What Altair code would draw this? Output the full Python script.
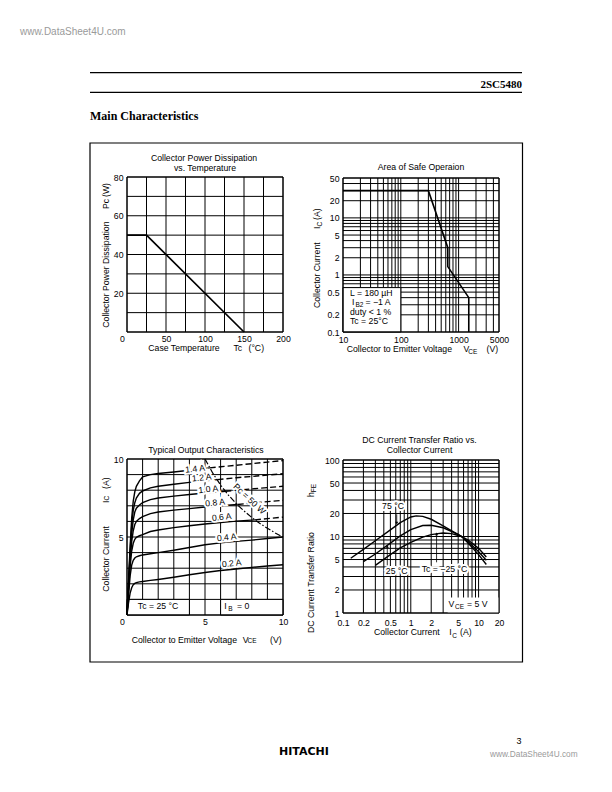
import altair as alt
import pandas as pd

W, H, M = 596, 776, 8
SANS = "Liberation Sans"
SERIF = "Liberation Serif"
FS = 8.7
SUB = 6.5

# ---------------- Collector power dissipation vs. temperature ----------------
pd_tc = [0, 25, 150]
pd_pc = [50, 50, 0]
pd_xticks = [0, 50, 100, 150, 200]
pd_yticks = [20, 40, 60, 80]
pd_xgrid = [0, 25, 50, 75, 100, 125, 150, 175, 200]
pd_ygrid = [0, 10, 20, 30, 40, 50, 60, 70, 80]

# ---------------- Area of safe operation ----------------
soa_vce = [10, 300, 650, 650, 1500, 1500]
soa_ic = [30, 30, 3, 1.4, 0.4, 0.1]
soa_xticks = [10, 100, 1000, 5000]
soa_yticks = [0.1, 0.2, 0.5, 1, 2, 5, 10, 20, 50]
soa_xgrid = [10, 20, 30, 40, 50, 60, 70, 80, 90, 100, 200, 300, 400, 500, 600, 700, 800, 900,
             1000, 2000, 3000, 4000, 5000]
soa_ygrid = [0.1, 0.2, 0.3, 0.4, 0.5, 0.6, 0.7, 0.8, 0.9, 1, 2, 3, 4, 5, 6, 7, 8, 9, 10, 20, 30, 40, 50]
soa_box_v = [10, 100]
soa_box_i = [0.1, 0.6]

# ---------------- Typical output characteristics ----------------
oc_14_v = [0, 0.1, 0.2, 0.3, 0.4, 0.5, 0.6, 0.8, 1, 1.5, 2, 3, 4, 5, 5.3]
oc_14_i = [0, 2.2, 4.4, 6.2, 7.3, 7.9, 8.25, 8.6, 8.85, 9.0, 9.07, 9.17, 9.28, 9.4, 9.43]
oc_14_dv = [5.3, 6, 7, 8, 9, 10]
oc_14_di = [9.43, 9.5, 9.6, 9.7, 9.8, 9.9]
oc_12_v = [0, 0.1, 0.2, 0.3, 0.4, 0.5, 0.6, 0.8, 1, 1.5, 2, 3, 4, 5, 5.8]
oc_12_i = [0, 2.1, 4.1, 5.7, 6.7, 7.2, 7.5, 7.8, 7.95, 8.15, 8.25, 8.38, 8.5, 8.6, 8.68]
oc_12_dv = [5.8, 7, 8, 9, 10]
oc_12_di = [8.68, 8.8, 8.88, 8.97, 9.05]
oc_10_v = [0, 0.1, 0.2, 0.3, 0.4, 0.5, 0.6, 0.8, 1, 1.5, 2, 3, 4, 5, 6, 6.3]
oc_10_i = [0, 2.0, 3.8, 5.2, 6.1, 6.6, 6.85, 7.05, 7.2, 7.4, 7.5, 7.62, 7.72, 7.82, 7.9, 7.93]
oc_10_dv = [6.3, 7, 8, 9, 10]
oc_10_di = [7.93, 8.0, 8.08, 8.17, 8.25]
oc_08_v = [0, 0.1, 0.2, 0.3, 0.4, 0.5, 0.6, 0.8, 1, 1.5, 2, 3, 4, 5, 6, 7.1]
oc_08_i = [0, 1.8, 3.5, 4.7, 5.4, 5.8, 6.0, 6.18, 6.3, 6.5, 6.6, 6.72, 6.82, 6.92, 7.0, 7.08]
oc_08_dv = [7.1, 8, 9, 10]
oc_08_di = [7.08, 7.18, 7.27, 7.35]
oc_06_v = [0, 0.1, 0.2, 0.3, 0.4, 0.5, 0.6, 0.8, 1, 1.5, 2, 3, 4, 5, 6, 7, 8.2]
oc_06_i = [0, 1.6, 3.1, 4.1, 4.6, 4.85, 4.98, 5.08, 5.15, 5.35, 5.45, 5.6, 5.72, 5.83, 5.93, 6.02, 6.1]
oc_06_dv = [8.2, 9, 10]
oc_06_di = [6.1, 6.18, 6.27]
oc_04_v = [0, 0.1, 0.2, 0.3, 0.4, 0.5, 0.6, 0.8, 1, 1.5, 2, 3, 4, 5, 6, 7, 8, 9, 10]
oc_04_i = [0, 1.3, 2.5, 3.2, 3.5, 3.65, 3.73, 3.8, 3.85, 3.93, 4.0, 4.15, 4.33, 4.5, 4.62, 4.72, 4.8, 4.9, 5.0]
oc_02_v = [0, 0.1, 0.2, 0.3, 0.4, 0.5, 0.6, 0.8, 1, 1.5, 2, 3, 4, 5, 6, 7, 8, 9, 10]
oc_02_i = [0, 0.8, 1.4, 1.75, 1.95, 2.03, 2.08, 2.12, 2.15, 2.22, 2.28, 2.42, 2.58, 2.72, 2.85, 2.95, 3.05, 3.14, 3.22]
oc_pc_v = [5, 5.5, 6, 6.5, 7, 7.5, 8, 8.5, 9, 9.5, 10]
oc_pc_i = [10, 9.09, 8.33, 7.69, 7.14, 6.67, 6.25, 5.88, 5.56, 5.26, 5.0]
oc_labels = ["1.4 A", "1.2 A", "1.0 A", "0.8 A", "0.6 A", "0.4 A", "0.2 A"]
oc_lab_v = [4.36, 4.79, 5.21, 5.64, 6.07, 6.39, 6.71]
oc_lab_i = [9.38, 8.82, 8.07, 7.21, 6.29, 4.99, 3.32]
oc_xticks = [0, 5, 10]
oc_yticks = [5, 10]
oc_grid = [0, 1, 2, 3, 4, 5, 6, 7, 8, 9, 10]
oc_box_v = [0, 4]
oc_box_i = [0, 1]
oc_box2_v = [6, 10]
oc_box2_i = [0, 1]

# ---------------- DC current transfer ratio ----------------
hfe_75_ic = [0.13, 0.2, 0.3, 0.5, 0.7, 1.0, 1.2, 1.5, 2, 3, 5, 5.6, 7, 10, 13]
hfe_75_h = [5.2, 6.8, 8.8, 12.2, 15.2, 18.0, 18.6, 18.3, 16.8, 13.8, 10.6, 10.0, 8.2, 5.8, 4.3]
hfe_25_ic = [0.2, 0.3, 0.5, 0.7, 1.0, 1.5, 2, 3, 5, 5.6, 7, 10, 13]
hfe_25_h = [4.7, 5.9, 8.2, 10.2, 12.3, 13.9, 14.0, 13.0, 10.7, 10.0, 8.6, 6.3, 4.9]
hfe_m25_ic = [0.3, 0.5, 0.7, 1.0, 1.5, 2, 2.5, 3, 4, 5, 5.6, 7, 10, 13]
hfe_m25_h = [4.2, 5.8, 7.1, 8.4, 9.8, 10.6, 10.9, 11.1, 10.9, 10.3, 10.0, 9.0, 7.0, 5.4]
hfe_xticks = [0.1, 0.2, 0.5, 1, 2, 5, 10, 20]
hfe_yticks = [1, 2, 5, 10, 20, 50, 100]
hfe_xgrid = [0.1, 0.2, 0.3, 0.4, 0.5, 0.6, 0.7, 0.8, 0.9, 1, 2, 3, 4, 5, 6, 7, 8, 9, 10, 20]
hfe_ygrid = [1, 2, 3, 4, 5, 6, 7, 8, 9, 10, 20, 30, 40, 50, 60, 70, 80, 90, 100]
hfe_arrow_x = [0.62, 0.45, 2.4]
hfe_arrow_from = [19.5, 4.2, 4.6]
hfe_arrow_to = [15.0, 7.4, 10.8]
hfe_arrow_shape = ["triangle-down", "triangle-up", "triangle-up"]
hfe_box_ic = [3.5, 20]
hfe_box_h = [1, 1.6]

AXBASE = dict(title=None, grid=False, ticks=False, domain=False, labelFont=SANS,
              labelFontSize=FS, labelColor="black", labelFlush=False, labelOverlap=False)


def make_axes(xdom, ydom, xpx, ypx, log, xticks, yticks, xpad=3, ypad=4, zero_shift=False):
    t = "log" if log else "linear"
    xs = alt.Scale(type=t, domain=xdom, range=[xpx[0] - M, xpx[1] - M], nice=False)
    ys = alt.Scale(type=t, domain=ydom, range=[ypx[1] - M, ypx[0] - M], nice=False)
    base = dict(AXBASE)
    if log:
        base["format"] = "~g"
    xkw = dict(base)
    if zero_shift:
        xkw["labelOffset"] = {"condition": {"test": "datum.value === 0", "value": -5}, "value": 0}
    ax = alt.Axis(orient="bottom", offset=(ypx[1] - M) - H, values=xticks, labelPadding=xpad, **xkw)
    ay = alt.Axis(orient="left", offset=-(xpx[0] - M), values=yticks, labelPadding=ypad, **base)

    def X(f):
        return alt.X(f, type="quantitative", scale=xs, axis=ax)

    def Y(f):
        return alt.Y(f, type="quantitative", scale=ys, axis=ay)
    return X, Y


def grid(X, Y, xg, yg, xdom, ydom):
    v = pd.DataFrame({"x": xg, "y0": [ydom[0]] * len(xg), "y1": [ydom[1]] * len(xg)})
    h = pd.DataFrame({"y": yg, "x0": [xdom[0]] * len(yg), "x1": [xdom[1]] * len(yg)})
    lv = alt.Chart(v).mark_rule(color="black", strokeWidth=1).encode(x=X("x"), y=Y("y0"), y2="y1")
    lh = alt.Chart(h).mark_rule(color="black", strokeWidth=1).encode(y=Y("y"), x=X("x0"), x2="x1")
    return [lv, lh]


def frame(X, Y, xdom, ydom):
    f = pd.DataFrame({"x0": [xdom[0]], "x1": [xdom[1]], "y0": [ydom[0]], "y1": [ydom[1]]})
    return alt.Chart(f).mark_rect(fillOpacity=0, stroke="black", strokeWidth=1).encode(
        x=X("x0"), x2="x1", y=Y("y0"), y2="y1")


def wbox(X, Y, xv, yv, stroke=True):
    f = pd.DataFrame({"x0": [xv[0]], "x1": [xv[1]], "y0": [yv[0]], "y1": [yv[1]]})
    kw = dict(fill="white")
    if stroke:
        kw.update(stroke="black", strokeWidth=1)
    return alt.Chart(f).mark_rect(**kw).encode(x=X("x0"), x2="x1", y=Y("y0"), y2="y1")


def ptext(rows, align="left", baseline="alphabetic", size=FS, font=SANS, weight="normal",
          angle=None, color="black", halo=False):
    df = pd.DataFrame({"x": [r[0] - M for r in rows], "y": [r[1] - M for r in rows],
                       "t": [r[2] for r in rows]})
    kw = dict(align=align, baseline=baseline, fontSize=size, font=font, fontWeight=weight)
    if angle is not None:
        kw["angle"] = angle
    enc = dict(x=alt.X("x:Q", scale=None), y=alt.Y("y:Q", scale=None), text="t:N")
    out = []
    if halo:
        out.append(alt.Chart(df).mark_text(stroke="white", strokeWidth=4, color="white", **kw).encode(**enc))
    out.append(alt.Chart(df).mark_text(color=color, **kw).encode(**enc))
    return out


def prule(rows, width=1.2):
    df = pd.DataFrame({"x": [r[0] - M for r in rows], "x2": [r[1] - M for r in rows],
                       "y": [r[2] - M for r in rows]})
    return alt.Chart(df).mark_rule(color="black", strokeWidth=width).encode(
        x=alt.X("x:Q", scale=None), x2="x2:Q", y=alt.Y("y:Q", scale=None))


def line_df(xs, ys, name="s"):
    return pd.DataFrame({"x": xs, "y": ys, "k": list(range(len(xs))), "g": [name] * len(xs)})


# ================= Panel 1 =================
d1x, d1y = [0, 200], [0, 80]
X1, Y1 = make_axes(d1x, d1y, (127, 283), (177, 332), False, pd_xticks, pd_yticks, xpad=2, zero_shift=True)
p1 = alt.layer(
    *grid(X1, Y1, pd_xgrid, pd_ygrid, d1x, d1y),
    frame(X1, Y1, d1x, d1y),
    alt.Chart(line_df(pd_tc, pd_pc)).mark_line(color="black", strokeWidth=1.7).encode(
        x=X1("x"), y=Y1("y"), order="k:Q"),
)

# ================= Panel 2 =================
d2x, d2y = [10, 5000], [0.1, 50]
X2, Y2 = make_axes(d2x, d2y, (343, 499), (178, 332), True, soa_xticks, soa_yticks)
p2 = alt.layer(
    *grid(X2, Y2, soa_xgrid, soa_ygrid, d2x, d2y),
    wbox(X2, Y2, soa_box_v, soa_box_i),
    frame(X2, Y2, d2x, d2y),
    alt.Chart(line_df(soa_vce, soa_ic)).mark_line(color="black", strokeWidth=1.6).encode(
        x=X2("x"), y=Y2("y"), order="k:Q"),
)

# ================= Panel 3 =================
d3x, d3y = [0, 10], [0, 10]
X3, Y3 = make_axes(d3x, d3y, (127, 283), (459, 615), False, oc_xticks, oc_yticks, xpad=2, zero_shift=True)
solid = pd.concat([
    line_df(oc_14_v, oc_14_i, "1.4"), line_df(oc_12_v, oc_12_i, "1.2"), line_df(oc_10_v, oc_10_i, "1.0"),
    line_df(oc_08_v, oc_08_i, "0.8"), line_df(oc_06_v, oc_06_i, "0.6"), line_df(oc_04_v, oc_04_i, "0.4"),
    line_df(oc_02_v, oc_02_i, "0.2")])
dashed = pd.concat([
    line_df(oc_14_dv, oc_14_di, "1.4"), line_df(oc_12_dv, oc_12_di, "1.2"), line_df(oc_10_dv, oc_10_di, "1.0"),
    line_df(oc_08_dv, oc_08_di, "0.8"), line_df(oc_06_dv, oc_06_di, "0.6")])
oc_lab = pd.DataFrame({"x": oc_lab_v, "y": oc_lab_i, "t": oc_labels})
pc_lab = pd.DataFrame({"x": [7.85], "y": [7.45], "t": ["Pc = 50 W"]})
p3 = alt.layer(
    *grid(X3, Y3, oc_grid, oc_grid, d3x, d3y),
    wbox(X3, Y3, oc_box_v, oc_box_i),
    wbox(X3, Y3, oc_box2_v, oc_box2_i),
    frame(X3, Y3, d3x, d3y),
    alt.Chart(solid).mark_line(color="black", strokeWidth=1.4).encode(
        x=X3("x"), y=Y3("y"), detail="g:N", order="k:Q"),
    alt.Chart(dashed).mark_line(color="black", strokeWidth=1.4, strokeDash=[6, 3]).encode(
        x=X3("x"), y=Y3("y"), detail="g:N", order="k:Q"),
    alt.Chart(line_df(oc_pc_v, oc_pc_i)).mark_line(color="black", strokeWidth=1.2,
                                                   strokeDash=[6, 2, 1.5, 2]).encode(
        x=X3("x"), y=Y3("y"), order="k:Q"),
    alt.Chart(oc_lab).mark_text(font=SANS, fontSize=FS, stroke="white", strokeWidth=4, color="white",
                                angle=354).encode(x=X3("x"), y=Y3("y"), text="t:N"),
    alt.Chart(oc_lab).mark_text(font=SANS, fontSize=FS, color="black", angle=354).encode(
        x=X3("x"), y=Y3("y"), text="t:N"),
    alt.Chart(pc_lab).mark_text(font=SANS, fontSize=FS, stroke="white", strokeWidth=4, color="white",
                                angle=43).encode(x=X3("x"), y=Y3("y"), text="t:N"),
    alt.Chart(pc_lab).mark_text(font=SANS, fontSize=FS, color="black", angle=43).encode(
        x=X3("x"), y=Y3("y"), text="t:N"),
)

# ================= Panel 4 =================
d4x, d4y = [0.1, 20], [1, 100]
X4, Y4 = make_axes(d4x, d4y, (343, 499), (460, 613), True, hfe_xticks, hfe_yticks, xpad=5)
hfe = pd.concat([line_df(hfe_75_ic, hfe_75_h, "75"), line_df(hfe_25_ic, hfe_25_h, "25"),
                 line_df(hfe_m25_ic, hfe_m25_h, "-25")])
arrows = pd.DataFrame({"x": hfe_arrow_x, "y0": hfe_arrow_from, "y1": hfe_arrow_to, "s": hfe_arrow_shape})
p4 = alt.layer(
    *grid(X4, Y4, hfe_xgrid, hfe_ygrid, d4x, d4y),
    wbox(X4, Y4, hfe_box_ic, hfe_box_h, stroke=False),
    frame(X4, Y4, d4x, d4y),
    alt.Chart(hfe).mark_line(color="black", strokeWidth=1.4).encode(
        x=X4("x"), y=Y4("y"), detail="g:N", order="k:Q"),
    alt.Chart(arrows).mark_rule(color="black", strokeWidth=0.8).encode(x=X4("x"), y=Y4("y0"), y2="y1"),
    alt.Chart(arrows).mark_point(filled=True, color="black", size=10, opacity=1).encode(
        x=X4("x"), y=Y4("y1"), shape=alt.Shape("s:N", scale=None)),
)

# ================= Page text =================
page = []
page.append(prule([(90, 522, 72.7), (90, 522, 92.3)]))
box = pd.DataFrame({"x": [90 - M], "x2": [522.5 - M], "y": [143 - M], "y2": [662 - M]})
page.append(alt.Chart(box).mark_rect(fillOpacity=0, stroke="black", strokeWidth=1.2).encode(
    x=alt.X("x:Q", scale=None), x2="x2:Q", y=alt.Y("y:Q", scale=None), y2="y2:Q"))
page += ptext([(20, 34.5, "www.DataSheet4U.com")], size=10, color="#9a9a9a")
page += ptext([(522, 88, "2SC5480")], align="right", size=11, font=SERIF, weight="bold")
page += ptext([(90, 120, "Main Characteristics")], size=12, font=SERIF, weight="bold")
page += ptext([(519, 743.5, "3")], align="center", size=9)
page += ptext([(279, 755, "HITACHI")], size=11, font="DejaVu Sans", weight="bold")
page += ptext([(490, 757, "www.DataSheet4U.com")], size=8.3, color="#9a9a9a")

# chart titles
page += ptext([(204, 161, "Collector Power Dissipation"), (205, 171, "vs. Temperature"),
               (421, 170, "Area of Safe Operaion"), (206, 453, "Typical Output Characteristics"),
               (419.5, 443, "DC Current Transfer Ratio vs."), (419.5, 453, "Collector Current")],
              align="center")

# horizontal axis titles
page += ptext([(148.3, 351, "Case Temperature"), (233.5, 351, "Tc"), (248.5, 351, "(°C)"),
               (346.7, 352, "Collector to Emitter Voltage"), (463.5, 352, "V"), (486.5, 352, "(V)"),
               (131.7, 643, "Collector to Emitter Voltage"), (242.7, 643, "V"), (270, 643, "(V)"),
               (374, 635, "Collector Current"), (449.3, 635, "I"), (460, 635, "(A)")])
page += ptext([(468.3, 354, "CE"), (247.5, 643, "CE"), (452.3, 638, "C")], size=SUB)

# rotated axis titles
page += ptext([(108.5, 327.7, "Collector Power Dissipation"), (108.5, 209, "Pc"), (108.5, 197, "(W)"),
               (319.5, 308, "Collector Current"), (319.5, 229, "I"), (319.5, 220, "(A)"),
               (108.5, 591.7, "Collector Current"), (108.5, 503, "I"), (108.5, 489, "(A)"),
               (313.5, 633, "DC Current Transfer Ratio"), (313.5, 497, "h")], angle=270)
page += ptext([(321.5, 226.5, "C"), (108.5, 500.5, "C"), (315.5, 492.3, "FE")], size=SUB, angle=270)

# SOA conditions
page += ptext([(350, 295.5, "L = 180 µH"), (352, 305, "I"), (365.5, 305, "= −1 A"),
               (350, 314.5, "duty < 1 %"), (350, 324, "Tc = 25°C")])
page += ptext([(355.5, 307, "B2")], size=SUB)

# output characteristics notes
page += ptext([(158, 608.5, "Tc = 25 °C")], align="center")
page += ptext([(224.3, 608.5, "I"), (237, 608.5, "= 0")])
page += ptext([(228.3, 610.5, "B")], size=SUB)

# hFE notes
page += ptext([(393, 509, "75 °C"), (396.7, 574, "25 °C"), (444.5, 571.7, "Tc = −25 °C")],
              align="center", halo=True)
page += ptext([(448.5, 607, "V"), (467, 607, "= 5 V")])
page += ptext([(455, 609, "CE")], size=SUB)

chart = alt.layer(p1, p2, p3, p4, *page).resolve_scale(
    x="independent", y="independent"
).properties(
    width=W, height=H, padding=0, background="white",
    autosize=alt.AutoSizeParams(type="none"),
).configure_view(stroke=None)

chart.save("out.html", embed_options={"renderer": "svg", "actions": False})
